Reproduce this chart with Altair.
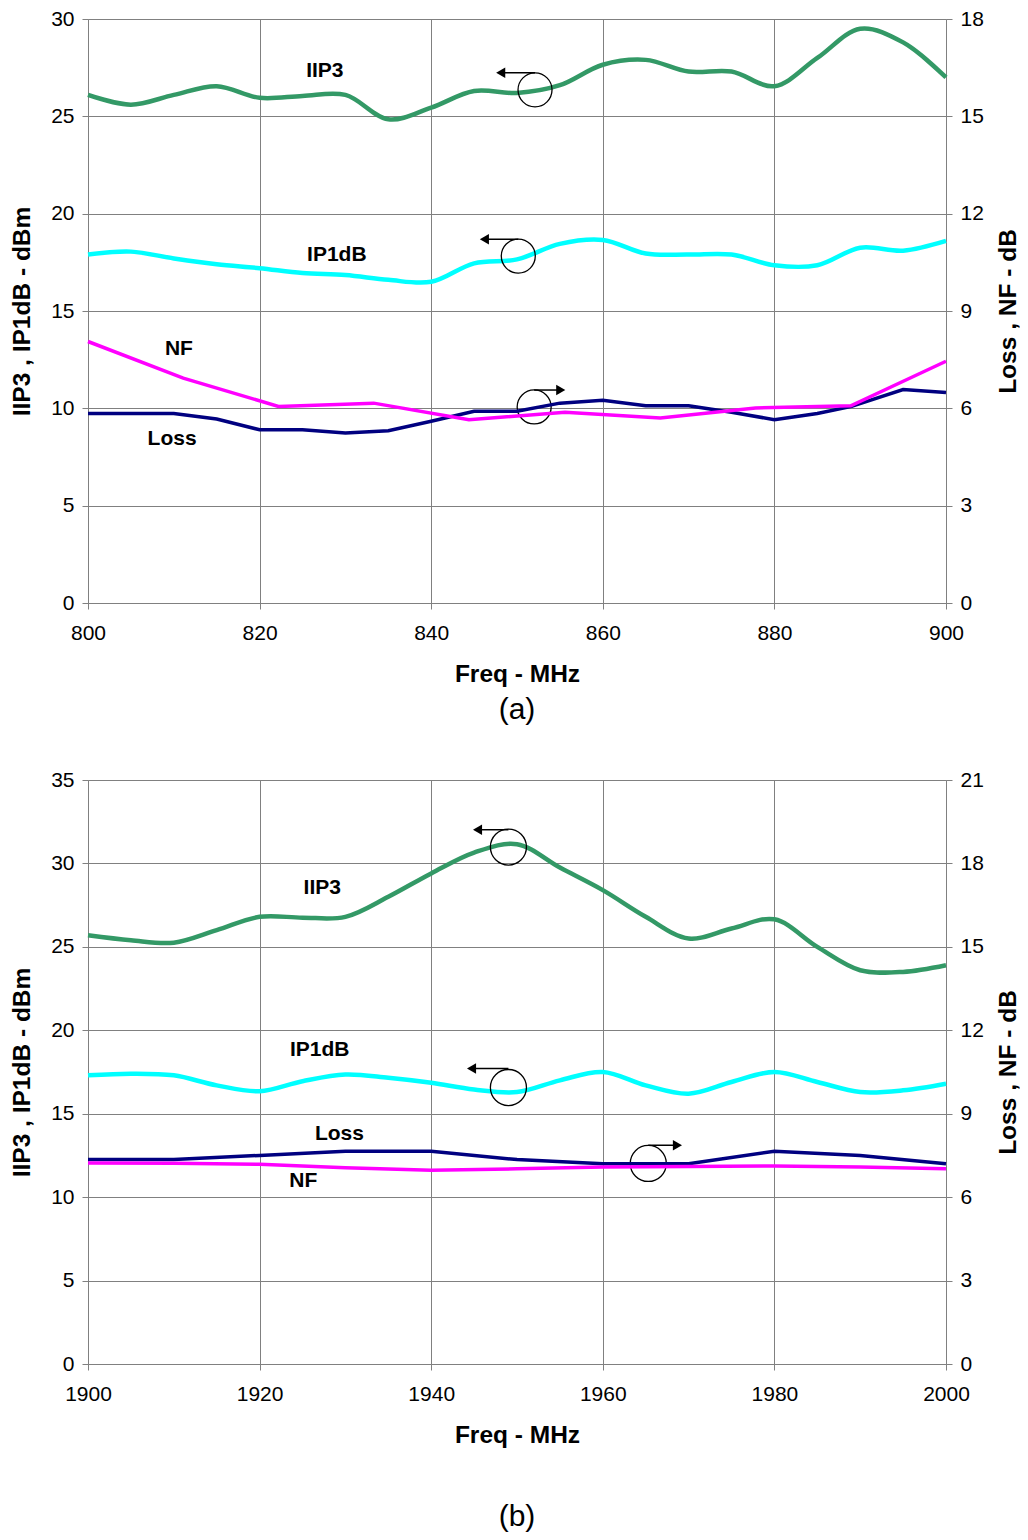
import altair as alt
import pandas as pd

FONT = "Liberation Sans"

# ---------------- panel (a): 800-900 MHz ----------------
freq_a = [800, 805, 810, 815, 820, 825, 830, 835, 840, 845, 850,
          855, 860, 865, 870, 875, 880, 885, 890, 895, 900]
iip3_a = [26.1, 25.6, 26.1, 26.55, 25.95, 26.05, 26.1, 24.85, 25.45, 26.3, 26.2,
          26.6, 27.65, 27.9, 27.3, 27.3, 26.55, 28.0, 29.5, 28.8, 27.0]
ip1db_a = [17.9, 18.05, 17.7, 17.4, 17.2, 16.95, 16.85, 16.6, 16.5, 17.45, 17.65,
           18.45, 18.65, 17.95, 17.9, 17.9, 17.35, 17.35, 18.25, 18.1, 18.6]
loss_freq_a = [800, 810, 815, 820, 825, 830, 835, 840, 845, 850, 855,
               860, 865, 870, 875, 880, 885, 889, 895, 900]
loss_a = [5.84, 5.84, 5.67, 5.34, 5.34, 5.24, 5.31, 5.6, 5.91, 5.91, 6.16,
          6.25, 6.08, 6.08, 5.88, 5.65, 5.84, 6.06, 6.58, 6.49]
nf_freq_a = [800, 811.1, 822.2, 833.3, 844.4, 855.6, 866.7, 877.8, 888.9, 900]
nf_a = [8.06, 6.93, 6.06, 6.16, 5.65, 5.88, 5.7, 6.01, 6.08, 7.45]

# ---------------- panel (b): 1900-2000 MHz ----------------
freq_b = [1900, 1905, 1910, 1915, 1920, 1925, 1930, 1935, 1940, 1945, 1950,
          1955, 1960, 1965, 1970, 1975, 1980, 1985, 1990, 1995, 2000]
iip3_b = [25.7, 25.4, 25.25, 26.0, 26.8, 26.75, 26.8, 28.0, 29.4, 30.65, 31.15,
          29.75, 28.4, 26.8, 25.5, 26.1, 26.65, 25.0, 23.6, 23.5, 23.9]
ip1db_b = [17.3, 17.4, 17.3, 16.7, 16.35, 16.95, 17.35, 17.15, 16.85, 16.45, 16.3,
           17.0, 17.5, 16.7, 16.2, 16.9, 17.5, 16.9, 16.3, 16.4, 16.8]
loss_freq_b = [1900, 1910, 1920, 1930, 1940, 1950, 1960, 1970, 1980, 1990, 2000]
loss_b = [7.35, 7.35, 7.5, 7.65, 7.65, 7.35, 7.2, 7.2, 7.65, 7.5, 7.2]
nf_freq_b = [1900, 1910, 1920, 1930, 1940, 1950, 1960, 1970, 1980, 1990, 2000]
nf_b = [7.23, 7.22, 7.18, 7.06, 6.97, 7.02, 7.08, 7.1, 7.12, 7.08, 7.02]

# ---------------- annotations (data units, left axis) ----------------
ann_a = {
    "circle_f": [852.1, 850.15, 852.0],
    "circle_v": [26.36, 17.82, 10.07],
    "tip_f": [847.6, 845.7, 855.6],
    "arrow_v": [27.24, 18.68, 10.94],
    "dir": [-1, -1, 1],
    "label_t": ["IIP3", "IP1dB", "NF", "Loss"],
    "label_f": [827.6, 829.0, 810.6, 809.8],
    "label_v": [27.32, 17.87, 13.05, 8.42],
}
ann_b = {
    "circle_f": [1949.0, 1949.0, 1965.3],
    "circle_v": [30.98, 16.57, 12.02],
    "tip_f": [1944.9, 1944.2, 1969.2],
    "arrow_v": [32.02, 17.71, 13.11],
    "dir": [-1, -1, 1],
    "label_t": ["IIP3", "IP1dB", "Loss", "NF"],
    "label_f": [1927.3, 1927.0, 1929.3, 1925.1],
    "label_v": [28.5, 18.8, 13.77, 10.96],
}

C_IIP3 = "#339966"
C_IP1 = "#00FFFF"
C_NF = "#FF00FF"
C_LOSS = "#000080"


def panel(freq, iip3, ip1db, lf, loss, nf_f, nf, xdom, ldom, rdom, ann, tag, tag_off, csize):
    xvals = list(range(xdom[0], xdom[1] + 1, 20))
    lvals = list(range(0, ldom[1] + 1, 5))
    rvals = list(range(0, rdom[1] + 1, 3))
    xenc = alt.X("f:Q", scale=alt.Scale(domain=xdom, nice=False, zero=False),
                 axis=alt.Axis(values=xvals, title="Freq - MHz", grid=True,
                               labelPadding=13, titlePadding=19, format="d",
                               labelFlush=False))
    yl = alt.Y("v:Q", scale=alt.Scale(domain=ldom, nice=False),
               axis=alt.Axis(values=lvals, title="IIP3 , IP1dB - dBm", grid=True,
                             labelPadding=8, titlePadding=16.5))
    yr = alt.Y("v:Q", scale=alt.Scale(domain=rdom, nice=False),
               axis=alt.Axis(values=rvals, title="Loss , NF - dB", grid=False,
                             orient="right", labelPadding=8, titlePadding=13,
                             titleAngle=270, titleBaseline="top"))

    def line(f, v, color, interp, w):
        return alt.Chart(pd.DataFrame({"f": f, "v": v})).mark_line(
            color=color, strokeWidth=w, interpolate=interp).encode(x=xenc, y=yl)

    def rline(f, v, color, w):
        return alt.Chart(pd.DataFrame({"f": f, "v": v})).mark_line(
            color=color, strokeWidth=w).encode(x=xenc, y=yr)

    circ = alt.Chart(pd.DataFrame({"f": ann["circle_f"], "v": ann["circle_v"]})).mark_point(
        shape="circle", size=csize, filled=False, stroke="black", strokeWidth=1.3,
        opacity=1).encode(x=xenc, y=yl)
    head_f = [t - d * 0.5 for t, d in zip(ann["tip_f"], ann["dir"])]
    arr = alt.Chart(pd.DataFrame({"f": ann["circle_f"], "f2": head_f,
                                  "v": ann["arrow_v"]})).mark_rule(
        color="black", strokeWidth=1.5).encode(x=xenc, x2="f2:Q", y=yl)
    heads = alt.Chart(pd.DataFrame({
        "f": head_f, "v": ann["arrow_v"],
        "s": ["triangle-left" if d < 0 else "triangle-right" for d in ann["dir"]]})).mark_point(
        filled=True, color="black", size=110, opacity=1).encode(
        x=xenc, y=yl, shape=alt.Shape("s:N", scale=None))
    labels = alt.Chart(pd.DataFrame({"f": ann["label_f"], "v": ann["label_v"],
                                     "t": ann["label_t"]})).mark_text(
        font=FONT, fontSize=21, fontWeight="bold", color="black",
        align="center", baseline="middle").encode(x=xenc, y=yl, text="t:N")

    left = alt.layer(line(freq, iip3, C_IIP3, "catmull-rom", 4.5),
                     line(freq, ip1db, C_IP1, "catmull-rom", 4.5),
                     circ, arr, heads, labels)
    right = alt.layer(rline(lf, loss, C_LOSS, 3.5), rline(nf_f, nf, C_NF, 3.5))
    return alt.layer(left, right).resolve_scale(y="independent").properties(
        width=858, height=584,
        title=alt.TitleParams(tag, orient="bottom", anchor="middle", fontSize=30,
                              fontWeight="normal", font=FONT, offset=tag_off,
                              color="black"))


pa = panel(freq_a, iip3_a, ip1db_a, loss_freq_a, loss_a, nf_freq_a, nf_a,
           [800, 900], [0, 30], [0, 18], ann_a, "(a)", 9, 1156)
pb = panel(freq_b, iip3_b, ip1db_b, loss_freq_b, loss_b, nf_freq_b, nf_b,
           [1900, 2000], [0, 35], [0, 21], ann_b, "(b)", 55, 1300)

chart = alt.vconcat(pa, pb, spacing=44).properties(
    padding={"left": 1, "top": 0, "right": 0, "bottom": 0}
).configure_axis(
    labelFont=FONT, titleFont=FONT, labelFontSize=21, titleFontSize=24.5,
    titleFontWeight="bold", labelColor="black", titleColor="black",
    gridColor="#808080", gridWidth=1, domainColor="#808080", tickColor="#808080",
    tickSize=6
).configure_view(stroke=None)

chart.save("out.html", embed_options={"renderer": "svg", "actions": False})
